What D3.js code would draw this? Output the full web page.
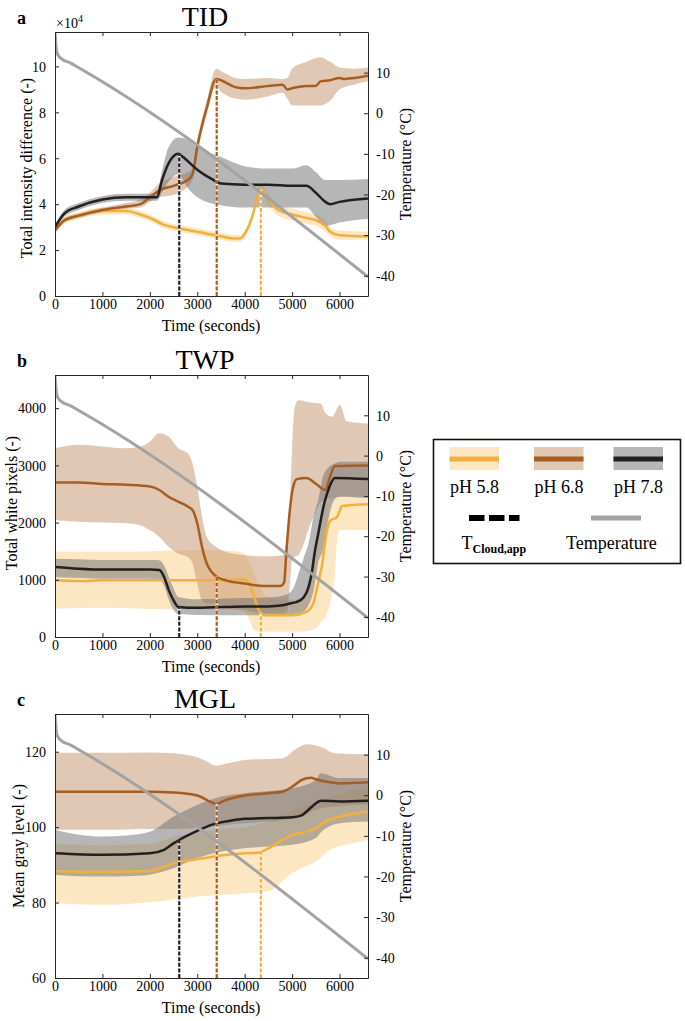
<!DOCTYPE html>
<html><head><meta charset="utf-8">
<script src="https://cdn.jsdelivr.net/npm/d3@7"></script>
<style>
body{margin:0;background:#fff}
text{font-family:"Liberation Serif","Times New Roman",serif;fill:#000}
</style>
</head><body>
<svg id="chart" width="685" height="1021"></svg>
<script>
// ---------- shared data ----------
const timeTicks = [0, 1000, 2000, 3000, 4000, 5000, 6000];
const tempTicks = [-40, -30, -20, -10, 0, 10];
const seriesNames = ["pH 5.8", "pH 6.8", "pH 7.8"];
const tCloud = [4340, 3410, 2620];           // T_Cloud,app (s) for pH 5.8, 6.8, 7.8
const temperature = [[0,20],[15,17.5],[35,15.2],[70,14.2],[150,13.3],[320,12.4],[530,11.0],[6600,-40.3]];

// ---------- panel a: TID (x10^4) ----------
const tidTicks = [0, 2, 4, 6, 8, 10];
const tid58Mean = [[0,2.85],[200,3.3],[500,3.5],[1000,3.7],[1500,3.7],[1800,3.55],[2000,3.4],[2300,3.1],[2600,2.95],[3000,2.8],[3500,2.6],[3800,2.5],[3900,2.5],[4000,2.7],[4150,3.4],[4300,4.5],[4350,4.65],[4500,4.2],[4700,3.75],[5000,3.55],[5300,3.4],[5500,3.3],[5700,3.05],[5800,2.8],[6000,2.65],[6600,2.6]];
const tid58Band = [[0,2.75,2.95],[200,3.15,3.45],[500,3.35,3.65],[1000,3.55,3.85],[1500,3.55,3.85],[1800,3.4,3.7],[2000,3.25,3.55],[2300,2.95,3.25],[2600,2.8,3.1],[3000,2.65,2.95],[3500,2.45,2.75],[3800,2.35,2.65],[3900,2.35,2.65],[4000,2.55,2.85],[4150,3.2,3.6],[4300,4.3,4.8],[4350,4.45,4.9],[4500,3.95,4.45],[4700,3.5,4.0],[5000,3.3,3.8],[5300,3.15,3.65],[5500,3.05,3.55],[5700,2.8,3.3],[5800,2.6,3.0],[6000,2.45,2.85],[6600,2.45,2.8]];
const tid68Mean = [[0,2.85],[200,3.3],[500,3.5],[1000,3.75],[1500,3.9],[1800,4.0],[2000,4.3],[2200,4.6],[2500,4.8],[2800,5.05],[2900,5.3],[3000,6.5],[3200,8.2],[3400,9.45],[3500,9.4],[3800,9.1],[4000,9.05],[4500,9.15],[4800,9.2],[4900,9.0],[5000,9.05],[5300,9.15],[5500,9.15],[5600,9.35],[5800,9.4],[6000,9.5],[6100,9.45],[6300,9.5],[6600,9.6]];
const tid68Band = [[0,2.75,2.95],[200,3.2,3.4],[500,3.4,3.6],[1000,3.65,3.85],[1500,3.8,4.05],[1800,3.85,4.2],[2000,4.1,4.5],[2200,4.3,4.9],[2500,4.4,5.2],[2700,4.6,5.3],[2900,5.05,5.55],[3000,6.2,6.8],[3200,7.9,8.5],[3400,9.1,9.9],[3500,8.9,9.8],[3800,8.6,9.5],[4000,8.55,9.45],[4500,8.7,9.5],[4800,8.85,9.45],[4900,8.6,9.5],[5000,8.3,9.9],[5300,8.3,10.2],[5600,8.3,10.4],[5800,8.5,10.2],[6000,9.0,9.95],[6300,9.2,9.9],[6600,9.35,9.95]];
const tid78Mean = [[0,3.0],[200,3.6],[500,3.9],[1000,4.2],[1500,4.3],[2000,4.3],[2150,4.3],[2250,5.0],[2400,5.8],[2600,6.2],[2700,6.05],[3000,5.5],[3300,5.1],[3500,4.9],[4000,4.85],[4500,4.85],[5000,4.8],[5300,4.8],[5500,4.5],[5700,4.1],[5800,4.0],[6000,4.1],[6600,4.25]];
const tid78Band = [[0,2.9,3.1],[200,3.45,3.75],[500,3.75,4.05],[1000,4.05,4.35],[1500,4.15,4.45],[2000,4.15,4.45],[2150,4.15,4.5],[2250,4.5,5.4],[2400,5.0,6.5],[2600,5.3,6.9],[2800,4.7,6.8],[3000,4.3,6.5],[3500,3.95,6.05],[4000,3.85,5.65],[4500,3.85,5.55],[5000,3.85,5.55],[5300,3.85,5.7],[5500,3.45,5.4],[5700,3.05,5.05],[6000,3.2,5.05],[6600,3.35,5.1]];

// ---------- panel b: TWP ----------
const twpTicks = [0, 1000, 2000, 3000, 4000];
const twp58Mean = [[0,990],[500,980],[1000,990],[2000,990],[3000,990],[4000,1005],[4100,935],[4200,700],[4300,465],[4400,380],[5000,380],[5300,440],[5450,600],[5550,950],[5640,1300],[5720,1800],[5800,2030],[5950,2100],[6000,2200],[6050,2290],[6600,2320]];
const twp58Band = [[0,495,1490],[1000,510,1490],[2000,490,1500],[3000,480,1520],[3800,470,1500],[4000,440,1450],[4100,300,1300],[4200,115,1100],[4300,95,900],[4500,90,700],[5000,90,650],[5200,95,700],[5300,100,850],[5400,120,1200],[5500,150,1700],[5600,250,2100],[5700,350,2300],[5800,600,2420],[5900,1100,2440],[5950,1700,2450],[6000,1870,2450],[6600,1870,2450]];
const twp68Mean = [[0,2700],[500,2700],[1000,2675],[1500,2660],[2000,2630],[2200,2570],[2400,2450],[2600,2365],[2800,2280],[2900,2220],[3000,1985],[3100,1575],[3200,1285],[3300,1140],[3400,1060],[3600,990],[4000,935],[4400,890],[4750,890],[4830,950],[4880,1500],[4950,2200],[5020,2620],[5100,2760],[5300,2780],[5500,2680],[5700,2570],[5800,2800],[5900,2990],[6600,3000]];
const twp68Band = [[0,2045,3300],[500,2015,3360],[1500,1990,3300],[1800,1955,3330],[2000,1870,3415],[2200,1750,3560],[2400,1575,3500],[2600,1460,3300],[2800,1400,3210],[2900,1285,3035],[3000,935,2630],[3100,640,2100],[3200,585,1750],[3400,585,1575],[3600,525,1490],[4000,470,1430],[4500,410,1410],[4800,410,1430],[4850,420,1500],[4900,450,1900],[4950,900,2300],[5000,1350,3300],[5050,1400,4000],[5130,1430,4140],[5400,2000,4100],[5600,2350,4080],[5700,2400,3920],[5840,2425,3850],[6010,2450,4060],[6150,2450,3770],[6600,2450,3730]];
const twp78Mean = [[0,1225],[500,1195],[1000,1180],[2000,1180],[2200,1170],[2300,1050],[2400,815],[2500,640],[2600,525],[3000,510],[4000,535],[4500,535],[4800,555],[5000,595],[5100,615],[5250,700],[5350,880],[5420,1150],[5480,1500],[5540,1760],[5680,2345],[5790,2630],[5900,2780],[6600,2760]];
const twp78Band = [[0,1050,1370],[500,1030,1360],[1000,1020,1345],[2000,1020,1345],[2200,1010,1340],[2300,900,1250],[2400,650,1050],[2500,470,850],[2600,400,700],[3000,385,660],[4000,380,680],[4500,380,690],[4800,385,720],[5000,400,815],[5150,420,1150],[5250,450,1400],[5350,560,1650],[5450,800,2100],[5550,1300,2400],[5650,1520,2800],[5750,2000,2950],[5890,2400,3030],[6000,2450,3065],[6600,2425,3065]];

// ---------- panel c: MGL ----------
const mglTicks = [60, 80, 100, 120];
const mgl58Mean = [[0,88.4],[1000,88.1],[2000,88.4],[2500,90.4],[3000,91.5],[3500,92.5],[4000,93.1],[4300,93.3],[4500,94.4],[4800,96.6],[5000,97.9],[5300,98.8],[5500,99.7],[5700,101.5],[6000,102.8],[6600,104.1]];
const mgl58Band = [[0,79.9,95.5],[1000,79.4,95.2],[2000,80.1,95.5],[2500,80.8,97.5],[3000,81.6,98.5],[3500,82.0,99.5],[4000,82.5,100],[4500,83,101.5],[5000,87.9,104.5],[5500,90.9,106.5],[5800,94,108],[6200,95.5,109.5],[6600,96.5,111]];
const mgl68Mean = [[0,109.4],[1000,109.4],[2000,109.4],[2500,109.2],[3000,108.4],[3300,106.6],[3400,106.2],[3600,107.2],[4000,108.4],[4500,109.0],[4800,109.4],[5000,110.7],[5200,112.5],[5400,113.1],[5500,112.7],[5800,111.9],[6000,111.6],[6600,111.9]];
const mgl68Band = [[0,99.3,119.7],[1000,99.3,119.7],[2000,99.5,119.8],[2500,99.5,119.6],[3000,99.8,118.5],[3200,100.0,117.4],[3400,100.3,116.3],[3600,100.6,116.8],[4000,101,117.8],[4800,101.8,118.3],[5100,102.5,120.9],[5300,103.5,122.0],[5600,105,121.3],[5900,105.5,119.6],[6600,106,119.3]];
const mgl78Mean = [[0,93.1],[1000,92.7],[2000,93.1],[2300,94.0],[2500,95.7],[2620,96.6],[2800,97.8],[3000,99.0],[3300,100.6],[3600,101.5],[4000,102.2],[4500,102.4],[5000,102.6],[5200,103.1],[5300,104.1],[5500,106.3],[5600,107.0],[6000,106.8],[6600,107.0]];
const mgl78Band = [[0,87.4,99.3],[500,87.0,98.0],[1000,86.9,97.5],[1500,87.0,97.8],[2000,87.4,98.8],[2500,89.1,102.8],[3000,91.8,105.9],[3500,93.5,108.1],[4000,94.4,109],[5000,95.3,110.3],[5500,97.1,112.5],[5600,98.5,114.3],[6000,101,113],[6600,101.5,113]];

// ---------- style / layout ----------
const colors = [
  {line:"#f0b040", band:"#fbcf88"},
  {line:"#a65d22", band:"#c4926c"},
  {line:"#231f1e", band:"#6e6e6e"}
];
const bandOpacity = 0.5;
const tempColor = "#a3a3a3";
const axisColor = "#262626";
const L = 55, R = 368;
const panels = [
  {id:"a", title:"TID", top:32, height:264, yDomain:[0,11.5], ticks:tidTicks, ylabel:"Total intensity difference (-)", ylabX:32, ylabY:168,
   means:[tid58Mean,tid68Mean,tid78Mean], bands:[tid58Band,tid68Band,tid78Band], exp:true},
  {id:"b", title:"TWP", top:375, height:262, yDomain:[0,4580], ticks:twpTicks, ylabel:"Total white pixels (-)", ylabX:17, ylabY:503,
   means:[twp58Mean,twp68Mean,twp78Mean], bands:[twp58Band,twp68Band,twp78Band]},
  {id:"c", title:"MGL", top:714, height:264, yDomain:[60,130], ticks:mglTicks, ylabel:"Mean gray level (-)", ylabX:24, ylabY:846,
   means:[mgl58Mean,mgl68Mean,mgl78Mean], bands:[mgl58Band,mgl68Band,mgl78Band]}
];

const svg = d3.select("#chart");
const defs = svg.append("defs");

function interp(arr, t){
  const i = d3.bisector(d=>d[0]).right(arr, t);
  if (i <= 0) return arr[0][1];
  if (i >= arr.length) return arr[arr.length-1][1];
  const a = arr[i-1], b = arr[i];
  return a[1] + (b[1]-a[1])*(t-a[0])/(b[0]-a[0]);
}

function drawPanel(p){
  const bottom = p.top + p.height;
  const x = d3.scaleLinear().domain([0,6600]).range([L,R]);
  const y = d3.scaleLinear().domain(p.yDomain).range([bottom,p.top]);
  const yT = d3.scaleLinear().domain([-45,20]).range([bottom,p.top]);
  const g = svg.append("g");

  defs.append("clipPath").attr("id","clip-"+p.id)
    .append("rect").attr("x",L).attr("y",p.top).attr("width",R-L).attr("height",p.height);
  const plot = g.append("g").attr("clip-path",`url(#clip-${p.id})`);

  const area = d3.area().x(d=>x(d[0])).y0(d=>y(d[1])).y1(d=>y(d[2])).curve(d3.curveMonotoneX);
  const line = d3.line().x(d=>x(d[0])).y(d=>y(d[1])).curve(d3.curveMonotoneX);

  p.bands.forEach((b,i)=>{
    plot.append("path").datum(b).attr("d",area)
      .attr("fill",colors[i].band).attr("fill-opacity",bandOpacity);
  });
  p.means.forEach((m,i)=>{
    plot.append("path").datum(m).attr("d",line)
      .attr("fill","none").attr("stroke",colors[i].line).attr("stroke-width",2.5)
      .attr("stroke-linejoin","round");
  });
  // T_Cloud,app dashed lines
  tCloud.forEach((t,i)=>{
    const v = interp(p.means[i], t);
    plot.append("line").attr("x1",x(t)).attr("x2",x(t)).attr("y1",bottom).attr("y2",y(v))
      .attr("stroke","#fff").attr("stroke-width",2.2);
    plot.append("line").attr("x1",x(t)).attr("x2",x(t)).attr("y1",bottom).attr("y2",y(v))
      .attr("stroke",colors[i].line).attr("stroke-width",2.2).attr("stroke-dasharray","4,1.6");
  });
  // temperature
  plot.append("path").datum(temperature)
    .attr("d", d3.line().x(d=>x(d[0])).y(d=>yT(d[1])).curve(d3.curveMonotoneX))
    .attr("fill","none").attr("stroke",tempColor).attr("stroke-width",3);

  // axes
  const style = sel => {
    sel.select(".domain").attr("stroke",axisColor);
    sel.selectAll(".tick line").attr("stroke",axisColor);
    sel.selectAll(".tick text").attr("fill","#000")
      .style("font-family","'Liberation Serif','Times New Roman',serif").style("font-size","14px");
  };
  g.append("g").attr("transform",`translate(0,${bottom})`)
    .call(d3.axisBottom(x).tickValues(timeTicks).tickSizeInner(-4).tickSizeOuter(0).tickPadding(8).tickFormat(d=>String(d)))
    .call(style);
  g.append("g").attr("transform",`translate(0,${p.top})`)
    .call(d3.axisTop(x).tickValues(timeTicks).tickSizeInner(-4).tickSizeOuter(0).tickFormat(""))
    .call(style);
  g.append("g").attr("transform",`translate(${L},0)`)
    .call(d3.axisLeft(y).tickValues(p.ticks).tickSizeInner(-4).tickSizeOuter(0).tickPadding(9).tickFormat(d=>String(d)))
    .call(style);
  g.append("g").attr("transform",`translate(${R},0)`)
    .call(d3.axisRight(yT).tickValues(tempTicks).tickSizeInner(-4).tickSizeOuter(0).tickPadding(8).tickFormat(d=>String(d)))
    .call(style);
  g.selectAll(".domain").attr("stroke-width",1);
  g.selectAll(".tick text").attr("dy","0.34em");
  g.selectAll("g").filter(function(){return false;});

  // labels
  g.append("text").attr("x",205).attr("y",p.top-6).attr("text-anchor","middle")
    .style("font-size","28px").text(p.title);
  g.append("text").attr("x",17).attr("y",p.top-8).style("font-size","18px").style("font-weight","bold").text(p.id);
  g.append("text").attr("transform",`translate(${p.ylabX},${p.ylabY}) rotate(-90)`)
    .attr("text-anchor","middle").style("font-size","16px").text(p.ylabel);
  g.append("text").attr("transform",`translate(${411},${p.top+p.height/2}) rotate(-90)`)
    .attr("text-anchor","middle").style("font-size","16px").text("Temperature (°C)");
  g.append("text").attr("x",211).attr("y",bottom+35).attr("text-anchor","middle")
    .style("font-size","16px").text("Time (seconds)");
  if (p.exp){
    const t = g.append("text").attr("x",56).attr("y",p.top-4).style("font-size","14px");
    t.append("tspan").text("×10");
    t.append("tspan").attr("dy",-6).style("font-size","10px").text("4");
  }
}
panels.forEach(drawPanel);
// fix bottom axis label baseline (dy was reset above)
svg.selectAll("g").each(function(){});

// ---------- legend ----------
const lg = svg.append("g");
lg.append("rect").attr("x",433.5).attr("y",439.5).attr("width",247).attr("height",124)
  .attr("fill","#fff").attr("stroke","#111").attr("stroke-width",1.6);
const swX = [449.5, 534, 613.5];
seriesNames.forEach((n,i)=>{
  lg.append("rect").attr("x",swX[i]).attr("y",447).attr("width",49.5).attr("height",23)
    .attr("fill",colors[i].band).attr("fill-opacity",bandOpacity);
  lg.append("rect").attr("x",swX[i]).attr("y",456.5).attr("width",49.5).attr("height",5)
    .attr("fill",colors[i].line);
  lg.append("text").attr("x",swX[i]+25).attr("y",493).attr("text-anchor","middle")
    .style("font-size","18px").text(n);
});
lg.append("line").attr("x1",469).attr("x2",519.5).attr("y1",518).attr("y2",518)
  .attr("stroke","#000").attr("stroke-width",6).attr("stroke-dasharray","15.5,4.5");
lg.append("line").attr("x1",591).attr("x2",641).attr("y1",518).attr("y2",518)
  .attr("stroke",tempColor).attr("stroke-width",5);
const tc = lg.append("text").attr("x",461.5).attr("y",549).style("font-size","18px");
tc.append("tspan").text("T");
tc.append("tspan").attr("dy",3.5).style("font-size","12px").style("font-weight","bold").text("Cloud,app");
lg.append("text").attr("x",566).attr("y",549).style("font-size","18px").text("Temperature");
</script>
</body></html>
